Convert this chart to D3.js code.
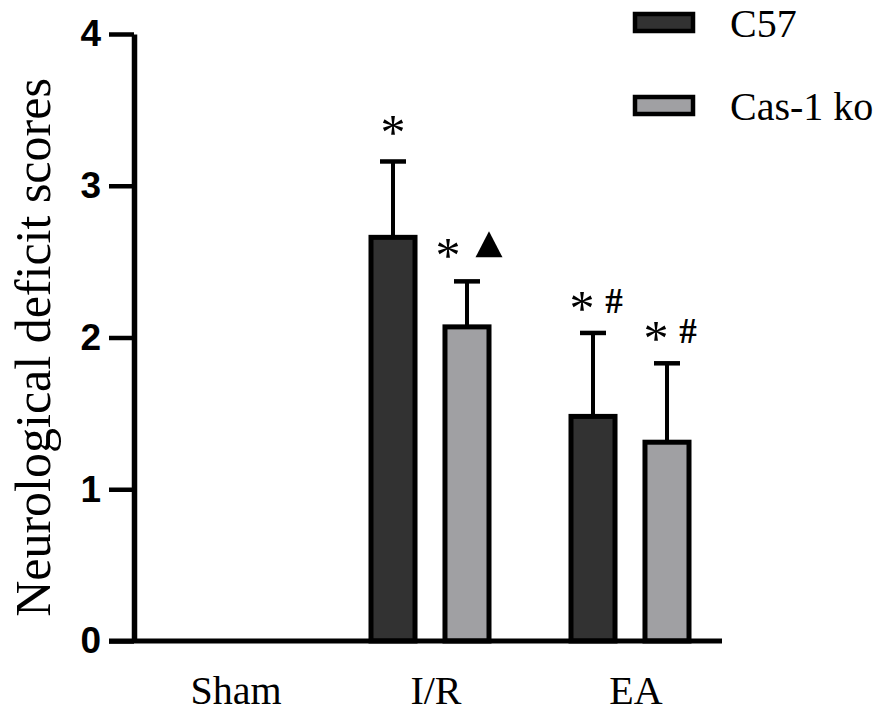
<!DOCTYPE html>
<html>
<head>
<meta charset="utf-8">
<script src="https://cdn.jsdelivr.net/npm/d3@7"></script>
<style>
  body { margin: 0; background: #fff; }
  svg { display: block; }
</style>
</head>
<body>
<svg id="chart" width="894" height="717"></svg>
<script>
"use strict";

// groups on the x axis and the two strains
const groups = ["Sham", "I/R", "EA"];
const series = ["C57", "Cas-1 ko"];

// mean scores per group, one array per strain
const c57Means = [0, 2.66, 1.48];
const casMeans = [0, 2.07, 1.31];
// standard deviations (upper whiskers)
const c57Err = [0, 0.50, 0.55];
const casErr = [0, 0.30, 0.52];

// significance marks above each bar
const c57Marks = ["", "*", "*#"];
const casMarks = ["", "*\u25B2", "*#"];

const yTicks = [0, 1, 2, 3, 4];
const fills = ["#323232", "#a0a0a3"];

const svg = d3.select("#chart");

const y = d3.scaleLinear().domain([0, 4]).range([641, 34]);
const x0 = d3.scaleBand().domain(groups).range([130, 730]);
const x1 = d3.scaleBand().domain(series).range([41, 159]).paddingInner(0.405);

const axisX = 134;
const axisEnd = 722;
const serif = "Liberation Serif, 'Times New Roman', serif";

// build rows from the small arrays
const rows = groups.map((g, i) => ({
  group: g,
  bars: [
    { key: series[0], value: c57Means[i], err: c57Err[i], mark: c57Marks[i], fill: fills[0] },
    { key: series[1], value: casMeans[i], err: casErr[i], mark: casMarks[i], fill: fills[1] }
  ]
}));

// bars
const g = svg.append("g");
const groupSel = g.selectAll("g.grp").data(rows).join("g")
  .attr("class", "grp")
  .attr("transform", d => `translate(${x0(d.group)},0)`);

const barSel = groupSel.selectAll("g.bar").data(d => d.bars.filter(b => b.value > 0)).join("g")
  .attr("class", "bar");

// error bars go behind the rect so the stem starts from the top edge
barSel.append("line")
  .attr("x1", d => x1(d.key) + x1.bandwidth() / 2)
  .attr("x2", d => x1(d.key) + x1.bandwidth() / 2)
  .attr("y1", d => y(d.value))
  .attr("y2", d => y(d.value + d.err))
  .attr("stroke", "#000").attr("stroke-width", 4);
barSel.append("line")
  .attr("x1", d => x1(d.key) + x1.bandwidth() / 2 - 13)
  .attr("x2", d => x1(d.key) + x1.bandwidth() / 2 + 13)
  .attr("y1", d => y(d.value + d.err))
  .attr("y2", d => y(d.value + d.err))
  .attr("stroke", "#000").attr("stroke-width", 4.5);

barSel.append("rect")
  .attr("x", d => x1(d.key))
  .attr("width", x1.bandwidth())
  .attr("y", d => y(d.value))
  .attr("height", d => y(0) - y(d.value))
  .attr("fill", d => d.fill)
  .attr("stroke", "#000").attr("stroke-width", 5);

// significance marks: asterisk + optional symbol
barSel.each(function (d) {
  const cx = x1(d.key) + x1.bandwidth() / 2;
  const top = y(d.value + d.err);
  const sel = d3.select(this);
  const chars = d.mark.split("");
  const star = (sx, sy) => sel.append("text")
    .attr("x", sx).attr("y", sy)
    .attr("text-anchor", "middle")
    .attr("font-family", serif)
    .attr("font-size", 50)
    .text("*");
  if (chars.length === 1) {
    star(cx, top - 12);
  } else if (chars[1] === "#") {
    star(cx - 11, top - 8);
    sel.append("text")
      .attr("x", cx + 21).attr("y", top - 20)
      .attr("text-anchor", "middle")
      .attr("font-family", serif)
      .attr("font-weight", "bold")
      .attr("font-size", 35)
      .text("#");
  } else {
    star(cx - 19, top - 9);
    // filled triangle
    const tx = cx + 22, tb = top - 24;
    sel.append("path")
      .attr("d", d3.line()([[tx - 13.5, tb], [tx + 13.5, tb], [tx, tb - 26]]) + "Z")
      .attr("fill", "#000");
  }
});

// y axis
const yAxis = svg.append("g")
  .attr("transform", `translate(${axisX},0)`)
  .call(d3.axisLeft(y).tickValues(yTicks).tickFormat(d3.format("d")).tickSize(25).tickSizeOuter(0).tickPadding(8));
yAxis.select(".domain").attr("stroke", "#000").attr("stroke-width", 5.5);
yAxis.selectAll(".tick line").attr("stroke", "#000").attr("stroke-width", 4.5);
yAxis.selectAll(".tick text")
  .attr("font-family", "Liberation Sans, Arial, sans-serif")
  .attr("font-weight", "bold")
  .attr("font-size", 37)
  .attr("fill", "#000");

// x axis baseline
svg.append("line")
  .attr("x1", axisX - 25).attr("x2", axisEnd)
  .attr("y1", y(0)).attr("y2", y(0))
  .attr("stroke", "#000").attr("stroke-width", 5);

// group labels
svg.append("g").selectAll("text").data(groups).join("text")
  .attr("x", d => x0(d) + x0.bandwidth() / 2 + 6)
  .attr("y", 704)
  .attr("text-anchor", "middle")
  .attr("font-family", serif)
  .attr("font-size", 40)
  .text(d => d);

// y axis title
svg.append("text")
  .attr("transform", `translate(50,${(y(0) + y(4)) / 2 + 10}) rotate(-90)`)
  .attr("text-anchor", "middle")
  .attr("font-family", serif)
  .attr("font-size", 50)
  .text("Neurological deficit scores");

// legend
const legend = svg.append("g").attr("transform", "translate(635,14)");
const item = legend.selectAll("g").data(series).join("g")
  .attr("transform", (d, i) => `translate(0,${i * 83})`);
item.append("rect")
  .attr("width", 58).attr("height", 17)
  .attr("fill", (d, i) => fills[i])
  .attr("stroke", "#000").attr("stroke-width", 4.5);
item.append("text")
  .attr("x", 95).attr("y", 23)
  .attr("font-family", serif)
  .attr("font-size", 40)
  .text(d => d);
</script>
</body>
</html>
